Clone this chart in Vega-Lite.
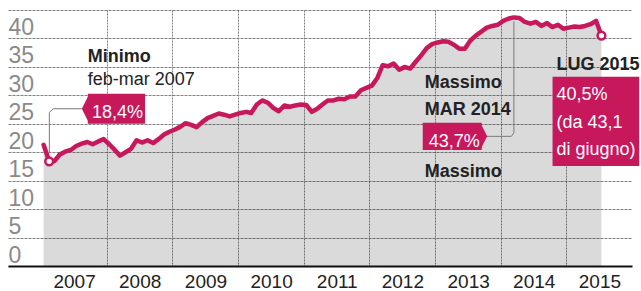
{
  "$schema": "https://vega.github.io/schema/vega-lite/v6.json",
  "width": 624,
  "height": 256,
  "autosize": "none",
  "padding": {"left": 8, "top": 10, "right": 9, "bottom": 25},
  "background": "white",
  "config": {"view": {"stroke": null}, "font": "Liberation Sans, Arial, sans-serif"},
  "datasets": {
    "series": [
      {"date": "2007-01-15", "v": 21.3}, {"date": "2007-02-15", "v": 18.4}, {"date": "2007-03-15", "v": 18.4}, {"date": "2007-04-15", "v": 19.6}, {"date": "2007-05-15", "v": 20.1}, {"date": "2007-06-15", "v": 20.4}, {"date": "2007-07-15", "v": 21.1}, {"date": "2007-08-15", "v": 21.5}, {"date": "2007-09-15", "v": 21.8}, {"date": "2007-10-15", "v": 21.4}, {"date": "2007-11-15", "v": 21.9}, {"date": "2007-12-15", "v": 22.3},
      {"date": "2008-01-15", "v": 21.4}, {"date": "2008-02-15", "v": 20.4}, {"date": "2008-03-15", "v": 19.4}, {"date": "2008-04-15", "v": 20.0}, {"date": "2008-05-15", "v": 20.6}, {"date": "2008-06-15", "v": 22.1}, {"date": "2008-07-15", "v": 21.7}, {"date": "2008-08-15", "v": 22.1}, {"date": "2008-09-15", "v": 21.6}, {"date": "2008-10-15", "v": 22.3}, {"date": "2008-11-15", "v": 23.1}, {"date": "2008-12-15", "v": 23.6},
      {"date": "2009-01-15", "v": 24.0}, {"date": "2009-02-15", "v": 24.5}, {"date": "2009-03-15", "v": 25.1}, {"date": "2009-04-15", "v": 24.8}, {"date": "2009-05-15", "v": 24.4}, {"date": "2009-06-15", "v": 25.3}, {"date": "2009-07-15", "v": 26.0}, {"date": "2009-08-15", "v": 26.4}, {"date": "2009-09-15", "v": 26.8}, {"date": "2009-10-15", "v": 26.6}, {"date": "2009-11-15", "v": 26.3}, {"date": "2009-12-15", "v": 26.6},
      {"date": "2010-01-15", "v": 26.9}, {"date": "2010-02-15", "v": 27.1}, {"date": "2010-03-15", "v": 26.9}, {"date": "2010-04-15", "v": 28.4}, {"date": "2010-05-15", "v": 29.1}, {"date": "2010-06-15", "v": 28.7}, {"date": "2010-07-15", "v": 27.8}, {"date": "2010-08-15", "v": 27.2}, {"date": "2010-09-15", "v": 28.2}, {"date": "2010-10-15", "v": 28.0}, {"date": "2010-11-15", "v": 28.2}, {"date": "2010-12-15", "v": 28.4},
      {"date": "2011-01-15", "v": 28.3}, {"date": "2011-02-15", "v": 27.1}, {"date": "2011-03-15", "v": 27.6}, {"date": "2011-04-15", "v": 28.4}, {"date": "2011-05-15", "v": 29.1}, {"date": "2011-06-15", "v": 29.1}, {"date": "2011-07-15", "v": 29.4}, {"date": "2011-08-15", "v": 29.3}, {"date": "2011-09-15", "v": 29.8}, {"date": "2011-10-15", "v": 29.8}, {"date": "2011-11-15", "v": 30.9}, {"date": "2011-12-15", "v": 31.3},
      {"date": "2012-01-15", "v": 31.7}, {"date": "2012-02-15", "v": 33.1}, {"date": "2012-03-15", "v": 35.3}, {"date": "2012-04-15", "v": 35.1}, {"date": "2012-05-15", "v": 35.6}, {"date": "2012-06-15", "v": 34.5}, {"date": "2012-07-15", "v": 35.0}, {"date": "2012-08-15", "v": 34.7}, {"date": "2012-09-15", "v": 35.9}, {"date": "2012-10-15", "v": 37.0}, {"date": "2012-11-15", "v": 38.3}, {"date": "2012-12-15", "v": 39.0},
      {"date": "2013-01-15", "v": 39.3}, {"date": "2013-02-15", "v": 39.5}, {"date": "2013-03-15", "v": 39.4}, {"date": "2013-04-15", "v": 38.9}, {"date": "2013-05-15", "v": 38.2}, {"date": "2013-06-15", "v": 38.2}, {"date": "2013-07-15", "v": 39.6}, {"date": "2013-08-15", "v": 40.5}, {"date": "2013-09-15", "v": 41.2}, {"date": "2013-10-15", "v": 41.9}, {"date": "2013-11-15", "v": 42.2}, {"date": "2013-12-15", "v": 42.4},
      {"date": "2014-01-15", "v": 43.1}, {"date": "2014-02-15", "v": 43.5}, {"date": "2014-03-15", "v": 43.7}, {"date": "2014-04-15", "v": 43.6}, {"date": "2014-05-15", "v": 42.9}, {"date": "2014-06-15", "v": 42.6}, {"date": "2014-07-15", "v": 42.9}, {"date": "2014-08-15", "v": 42.2}, {"date": "2014-09-15", "v": 42.7}, {"date": "2014-10-15", "v": 42.0}, {"date": "2014-11-15", "v": 42.4}, {"date": "2014-12-15", "v": 41.7},
      {"date": "2015-01-15", "v": 41.9}, {"date": "2015-02-15", "v": 42.1}, {"date": "2015-03-15", "v": 42.0}, {"date": "2015-04-15", "v": 42.2}, {"date": "2015-05-15", "v": 42.5}, {"date": "2015-06-15", "v": 43.1}, {"date": "2015-07-15", "v": 40.5}
    ],
    "ends": [{"date": "2007-02-15", "v": 18.4}, {"date": "2015-07-15", "v": 40.5}],
    "callouts": [
      {"g": "min", "i": 0, "date": "2007-08-16", "v": 27.64},
      {"g": "min", "i": 1, "date": "2007-03-10", "v": 27.64},
      {"g": "min", "i": 2, "date": "2007-02-16", "v": 27.0},
      {"g": "min", "i": 3, "date": "2007-02-16", "v": 19.9},
      {"g": "max", "i": 0, "date": "2013-10-15", "v": 22.79},
      {"g": "max", "i": 1, "date": "2014-03-01", "v": 22.79},
      {"g": "max", "i": 2, "date": "2014-03-15", "v": 23.4},
      {"g": "max", "i": 3, "date": "2014-03-15", "v": 43.0}
    ],
    "boxes": [
      {"date": "2007-09-18", "date2": "2008-08-01", "v": 30.28, "v2": 24.99},
      {"date": "2012-10-24", "date2": "2013-09-17", "v": 25.17, "v2": 20.41},
      {"date": "2014-10-16", "date2": "2016-02-10", "v": 33.28, "v2": 17.58}
    ],
    "tipLeft": [{"date": "2007-09-18", "v": 27.64}],
    "tipRight": [{"date": "2013-09-17", "v": 22.79}],
    "boldText": [
      {"date": "2007-09-18", "v": 35.9, "t": "Minimo"},
      {"date": "2012-11-04", "v": 31.34, "t": "Massimo"},
      {"date": "2012-11-04", "v": 26.58, "t": "MAR 2014"},
      {"date": "2012-11-04", "v": 15.64, "t": "Massimo"},
      {"date": "2014-11-07", "v": 34.51, "t": "LUG 2015"}
    ],
    "plainText": [{"date": "2007-09-18", "v": 31.87, "t": "feb-mar 2007"}],
    "whiteText": [
      {"date": "2007-10-11", "v": 26.05, "t": "18,4%"},
      {"date": "2012-11-26", "v": 20.94, "t": "43,7%"},
      {"date": "2014-11-07", "v": 29.22, "t": "40,5%"},
      {"date": "2014-11-07", "v": 24.29, "t": "(da 43,1"},
      {"date": "2014-11-07", "v": 19.52, "t": "di giugno)"}
    ]
  },
  "encoding": {
    "x": {
      "field": "date", "type": "temporal", "title": null,
      "scale": {"type": "utc", "nice": false, "domain": [{"year": 2006, "month": 7, "date": 1, "utc": true}, {"year": 2016, "month": 1, "date": 1, "utc": true}]},
      "axis": {
        "values": [
          {"year": 2007, "month": 1, "date": 1, "utc": true}, {"year": 2008, "month": 1, "date": 1, "utc": true}, {"year": 2009, "month": 1, "date": 1, "utc": true},
          {"year": 2010, "month": 1, "date": 1, "utc": true}, {"year": 2011, "month": 1, "date": 1, "utc": true}, {"year": 2012, "month": 1, "date": 1, "utc": true},
          {"year": 2013, "month": 1, "date": 1, "utc": true}, {"year": 2014, "month": 1, "date": 1, "utc": true}, {"year": 2015, "month": 1, "date": 1, "utc": true}
        ],
        "format": "%Y", "labelOffset": 33, "labelPadding": 21, "labelBaseline": "alphabetic",
        "ticks": false, "tickSize": 0, "labelFlush": false, "labelOverlap": false, "labelBound": false,
        "domainColor": "#111111", "domainWidth": 2,
        "grid": true, "gridColor": "#808080", "gridDash": [2, 1], "gridWidth": 1,
        "gridOpacity": {"condition": {"test": "utcyear(datum.value) == 2007", "value": 0}, "value": 1},
        "labelFontSize": 19, "labelColor": "#222222"
      }
    },
    "y": {
      "field": "v", "type": "quantitative", "title": null,
      "scale": {"domain": [0, 45], "nice": false, "zero": true},
      "axis": {
        "values": [0, 5, 10, 15, 20, 25, 30, 35, 40, 45],
        "labelExpr": "datum.value == 45 ? '' : datum.label",
        "labelAlign": "left", "labelPadding": 0, "ticks": false, "tickSize": 0, "domain": false,
        "labelBaseline": "alphabetic", "labelOffset": -4, "labelBound": false, "labelOverlap": false,
        "labelFontSize": 23, "labelColor": "#8a8a8a",
        "grid": true, "gridColor": "#808080", "gridDash": [3, 1], "gridWidth": 1.2
      }
    }
  },
  "layer": [
    {
      "data": {"name": "series"},
      "mark": {"type": "area", "color": "#000000", "opacity": 0.145}
    },
    {
      "data": {"name": "series"},
      "mark": {"type": "line", "color": "#c8185c", "strokeWidth": 4.5, "strokeJoin": "round", "strokeCap": "round"}
    },
    {
      "data": {"name": "callouts"},
      "mark": {"type": "line", "color": "#7a7a7a", "strokeWidth": 1},
      "encoding": {
        "detail": {"field": "g"},
        "order": {"field": "i", "type": "quantitative"}
      }
    },
    {
      "data": {"name": "ends"},
      "mark": {"type": "point", "shape": "circle", "filled": true, "fill": "white", "stroke": "#c8185c", "strokeWidth": 2.5, "size": 60, "opacity": 1}
    },
    {
      "data": {"name": "boxes"},
      "mark": {"type": "rect", "color": "#c8185c"},
      "encoding": {
        "x2": {"field": "date2"},
        "y2": {"field": "v2"}
      }
    },
    {
      "data": {"name": "tipLeft"},
      "mark": {"type": "point", "shape": "M0.1,-1L-0.4,0L0.1,1Z", "filled": true, "color": "#c8185c", "size": 900, "opacity": 1}
    },
    {
      "data": {"name": "tipRight"},
      "mark": {"type": "point", "shape": "M-0.1,-1L0.4,0L-0.1,1Z", "filled": true, "color": "#c8185c", "size": 729, "opacity": 1}
    },
    {
      "data": {"name": "boldText"},
      "mark": {"type": "text", "align": "left", "baseline": "alphabetic", "fontSize": 18, "fontWeight": "bold", "color": "#222222"},
      "encoding": {"text": {"field": "t"}}
    },
    {
      "data": {"name": "plainText"},
      "mark": {"type": "text", "align": "left", "baseline": "alphabetic", "fontSize": 18, "color": "#222222"},
      "encoding": {"text": {"field": "t"}}
    },
    {
      "data": {"name": "whiteText"},
      "mark": {"type": "text", "align": "left", "baseline": "alphabetic", "fontSize": 18, "color": "#ffffff"},
      "encoding": {"text": {"field": "t"}}
    }
  ]
}
